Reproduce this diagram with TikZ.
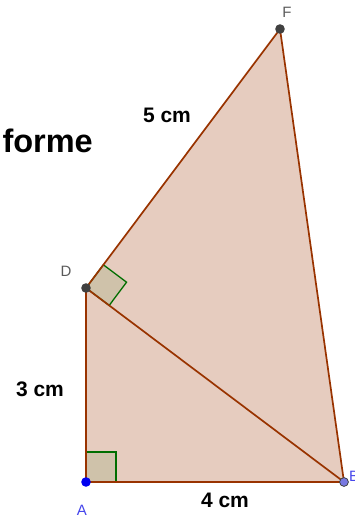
\documentclass[tikz,border=0pt]{standalone}
\usepackage{fontspec}
\setmainfont{Liberation Sans}
\usetikzlibrary{calc}
\definecolor{edge}{RGB}{153,51,0}
\definecolor{fillc}{RGB}{230,204,191}
\definecolor{rafill}{RGB}{207,194,170}
\definecolor{ragreen}{RGB}{0,110,0}
\definecolor{ptdark}{RGB}{64,64,64}
\definecolor{ptblue}{RGB}{0,0,240}
\definecolor{ptlav}{RGB}{120,120,225}
\definecolor{lblgray}{RGB}{90,90,90}
\definecolor{lblblue}{RGB}{70,70,235}
\tikzset{
  side/.style={draw=edge, line width=1.7pt, line join=round},
  tri/.style={fill=fillc},
  rabox/.style={draw=ragreen, fill=rafill, line width=1.3pt},
  measure/.style={font=\fontsize{21}{25}\selectfont\bfseries, anchor=base, inner sep=0pt},
  ptlabel/.style={font=\fontsize{15}{18}\selectfont, inner sep=0pt},
}
\begin{document}
\begin{tikzpicture}[x=1pt,y=-1pt]
\useasboundingbox (0,0) rectangle (355,517);
\clip (0,0) rectangle (355,517);
\coordinate (A) at (86,482);
\coordinate (B) at (344,482);
\coordinate (D) at (86,288);
\coordinate (F) at (280,29);
% fills
\fill[tri] (A) -- (B) -- (D) -- cycle;
\fill[tri] (D) -- (B) -- (F) -- cycle;
% right angle marks
\coordinate (ra1) at (116,482);
\coordinate (ra2) at (116,452);
\coordinate (ra3) at (86,452);
\draw[rabox] (A) -- (ra1) -- (ra2) -- (ra3) -- cycle;
\coordinate (rd1) at ($(D)!29pt!(F)$);
\coordinate (rd3) at ($(D)!29pt!(B)$);
\coordinate (rd2) at ($(rd1)+(rd3)-(D)$);
\draw[rabox] (D) -- (rd1) -- (rd2) -- (rd3) -- cycle;
% sides
\draw[side] (A) -- (B);
\draw[side] (A) -- (D);
\draw[side] (D) -- (B);
\draw[side] (D) -- (F);
\draw[side] (F) -- (B);
% points
\fill[ptdark] (D) circle (4.8);
\fill[ptdark] (F) circle (4.8);
\fill[ptblue] (A) circle (4.8);
\filldraw[fill=ptlav, draw=ptdark, line width=0.8pt] (B) circle (4.4);
% point labels
\node[ptlabel, text=lblgray, anchor=base] (lD) at (66,276) {D};
\node[ptlabel, text=lblgray, anchor=base] (lF) at (287,17) {F};
\node[ptlabel, text=lblblue, anchor=base] (lA) at (82,515) {A};
\node[ptlabel, text=lblblue, anchor=base west] (lB) at (349,481) {B};
% measures
\node[measure] (m5) at (167,122) {5 cm};
\node[measure] (m3) at (40,396) {3 cm};
\node[measure] (m4) at (225,507) {4 cm};
\node[font=\fontsize{32.5}{38}\selectfont\bfseries, anchor=base east, inner sep=0pt] (forme) at (93,152) {forme};
\end{tikzpicture}
\end{document}
